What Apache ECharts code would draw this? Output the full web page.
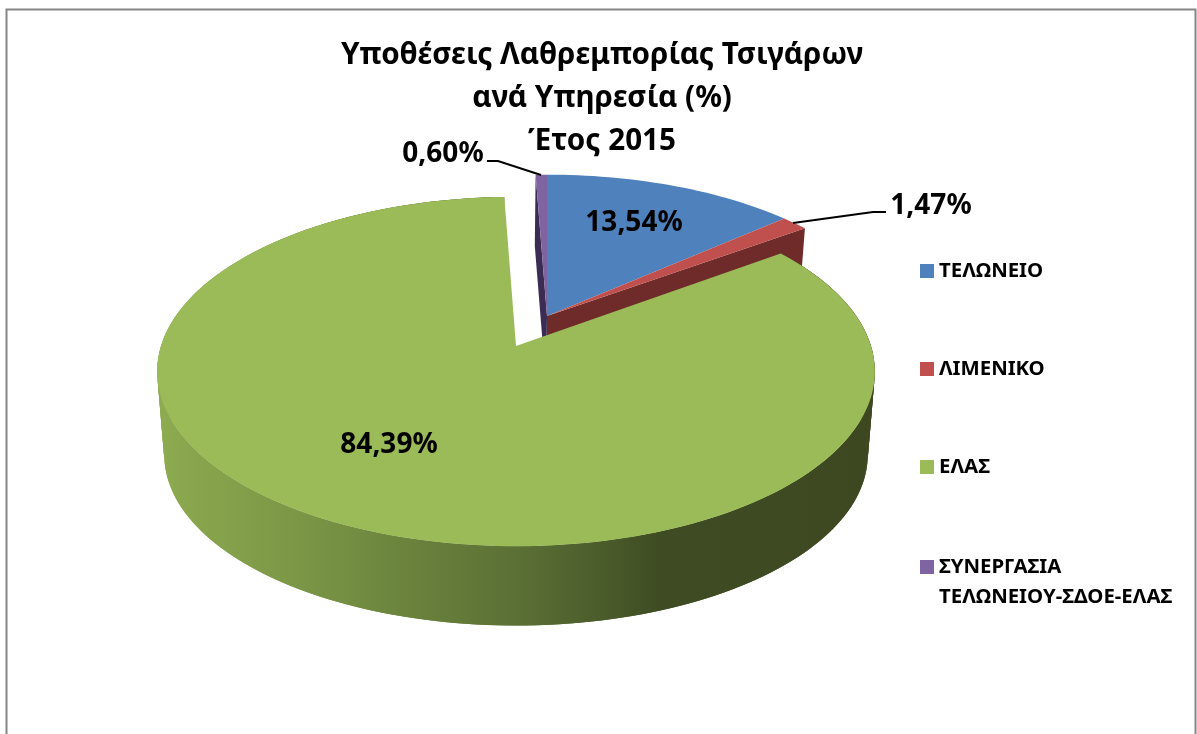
<!DOCTYPE html>
<html>
<head>
<meta charset="utf-8">
<title>Υποθέσεις Λαθρεμπορίας Τσιγάρων</title>
<script src="https://cdn.jsdelivr.net/npm/echarts@6/dist/echarts.min.js"></script>
<style>
    html, body { margin: 0; padding: 0; background: #fff; }
    #chart { width: 1197px; height: 734px; }
</style>
</head>
<body>
<div id="chart"></div>
<script>
let categories = ['ΤΕΛΩΝΕΙΟ', 'ΛΙΜΕΝΙΚΟ', 'ΕΛΑΣ', 'ΣΥΝΕΡΓΑΣΙΑ ΤΕΛΩΝΕΙΟΥ-ΣΔΟΕ-ΕΛΑΣ'];
let shares = [13.54, 1.47, 84.39, 0.60];
let colors = ['#4f81bd', '#c0504d', '#9bbb59', '#8064a2'];
let faceColors = ['#2f4d71', '#6f2b29', '#5d7035', '#3b2c54'];
let titleText = 'Υποθέσεις Λαθρεμπορίας Τσιγάρων\nανά Υπηρεσία (%)\nΈτος 2015';

let fontName = '"Noto Sans", sans-serif';
let chart = echarts.init(document.getElementById('chart'));

// excel style 3d pie: the disc is tilted, so the near side looks bigger
let perspective = 0.146;
let backTop = { x: 547, y: 316, k: 346, m: 162 };
let backBottom = { x: 546, y: 384, k: 340, m: 158 };
let frontTop = { x: 516, y: 346, k: 355, m: 171 };
let frontBottom = { x: 516, y: 430, k: 348, m: 167 };

let labelPlace = [
    { x: 634, y: 223 },
    { x: 931, y: 206, line: [[886, 212], [873, 212], [793, 223]] },
    { x: 389, y: 445 },
    { x: 443, y: 154, line: [[487, 161], [498, 161], [541, 175]] }
];

function project(disc, deg) {
    let rad = deg * Math.PI / 180;
    let depth = 1 + perspective * Math.cos(rad);
    return [
        disc.x + disc.k * Math.sin(rad) / depth,
        disc.y - disc.m * Math.cos(rad) / depth
    ];
}

function arc(disc, from, to) {
    let points = [];
    let steps = Math.max(2, Math.ceil((to - from) / 1.5));
    for (let s = 0; s <= steps; s++) {
        points.push(project(disc, from + (to - from) * s / steps));
    }
    return points;
}

function startAngle(index) {
    let sum = 0;
    for (let i = 0; i < index; i++) sum += shares[i];
    return sum * 3.6;
}

function renderSlice(index) {
    let from = startAngle(index);
    let to = from + shares[index] * 3.6;
    let isFront = index === 2;
    let top = isFront ? frontTop : backTop;
    let bottom = isFront ? frontBottom : backBottom;
    let children = [];

    if (isFront) {
        // outer wall as overlapping quads, keeps the straight side edges and no seams
        let wallFill = new echarts.graphic.LinearGradient(157, 0, 875, 0, [
            { offset: 0, color: '#8dab50' },
            { offset: 0.2, color: '#7b9646' },
            { offset: 0.38, color: '#677f3b' },
            { offset: 0.5, color: '#5b7035' },
            { offset: 0.62, color: '#4b5c2b' },
            { offset: 0.7, color: '#3f4c23' },
            { offset: 1, color: '#3d4821' }
        ], true);
        let topEdge = arc(top, from, to);
        let bottomEdge = arc(bottom, from, to);
        for (let s = 0; s < topEdge.length - 2; s++) {
            children.push({
                type: 'polygon',
                shape: { points: [topEdge[s], topEdge[s + 2], bottomEdge[s + 2], bottomEdge[s]] },
                style: { fill: wallFill }
            });
        }
    } else if (index === 1 || index === 3) {
        // cut face of the thin slices
        let edge = index === 1 ? to : from;
        children.push({
            type: 'polygon',
            shape: { points: [[top.x, top.y], project(top, edge), project(bottom, edge), [bottom.x, bottom.y]] },
            style: { fill: faceColors[index] }
        });
    }

    children.push({
        type: 'polygon',
        shape: { points: [[top.x, top.y]].concat(arc(top, from, to)) },
        style: { fill: colors[index] }
    });

    let place = labelPlace[index];
    if (place.line) {
        children.push({
            type: 'polyline',
            shape: { points: place.line },
            style: { stroke: '#000', lineWidth: 2, fill: null }
        });
    }
    children.push({
        type: 'text',
        x: place.x,
        y: place.y,
        style: {
            text: shares[index].toFixed(2).replace('.', ',') + '%',
            fill: '#000',
            fontSize: 28,
            fontWeight: 'bold',
            fontFamily: fontName,
            align: 'center',
            verticalAlign: 'middle'
        }
    });
    return { type: 'group', children: children };
}

let legendBase = {
    orient: 'vertical',
    left: 920,
    padding: 0,
    icon: 'rect',
    itemWidth: 14,
    itemHeight: 14,
    itemGap: 78,
    itemStyle: { borderWidth: 0 },
    textStyle: { color: '#000', fontSize: 20.4, fontWeight: 'bold', fontFamily: fontName }
};

chart.setOption({
    animation: false,
    backgroundColor: '#fff',
    title: {
        text: titleText,
        left: 597,
        top: 29,
        textAlign: 'center',
        textStyle: { color: '#000', fontSize: 29.6, fontWeight: 'bold', fontFamily: fontName, lineHeight: 43 }
    },
    legend: [
        Object.assign({}, legendBase, { top: 261, data: categories.slice(0, 3) }),
        Object.assign({}, legendBase, {
            top: 522,
            data: categories.slice(3),
            // empty first line keeps the marker next to the first real line
            formatter: function (name) { return '\n' + name.replace(' ', '\n'); },
            textStyle: Object.assign({}, legendBase.textStyle, { lineHeight: 30 })
        })
    ],
    graphic: [{
        type: 'rect',
        silent: true,
        shape: { x: 6.5, y: 9.5, width: 1189, height: 760 },
        style: { fill: null, stroke: '#868686', lineWidth: 2 }
    }],
    series: categories.map(function (name, index) {
        return {
            type: 'custom',
            name: name,
            coordinateSystem: 'none',
            z: index === 2 ? 3 : 2,
            silent: true,
            itemStyle: { color: colors[index] },
            data: [shares[index]],
            renderItem: function () { return renderSlice(index); }
        };
    })
});
</script>
</body>
</html>
